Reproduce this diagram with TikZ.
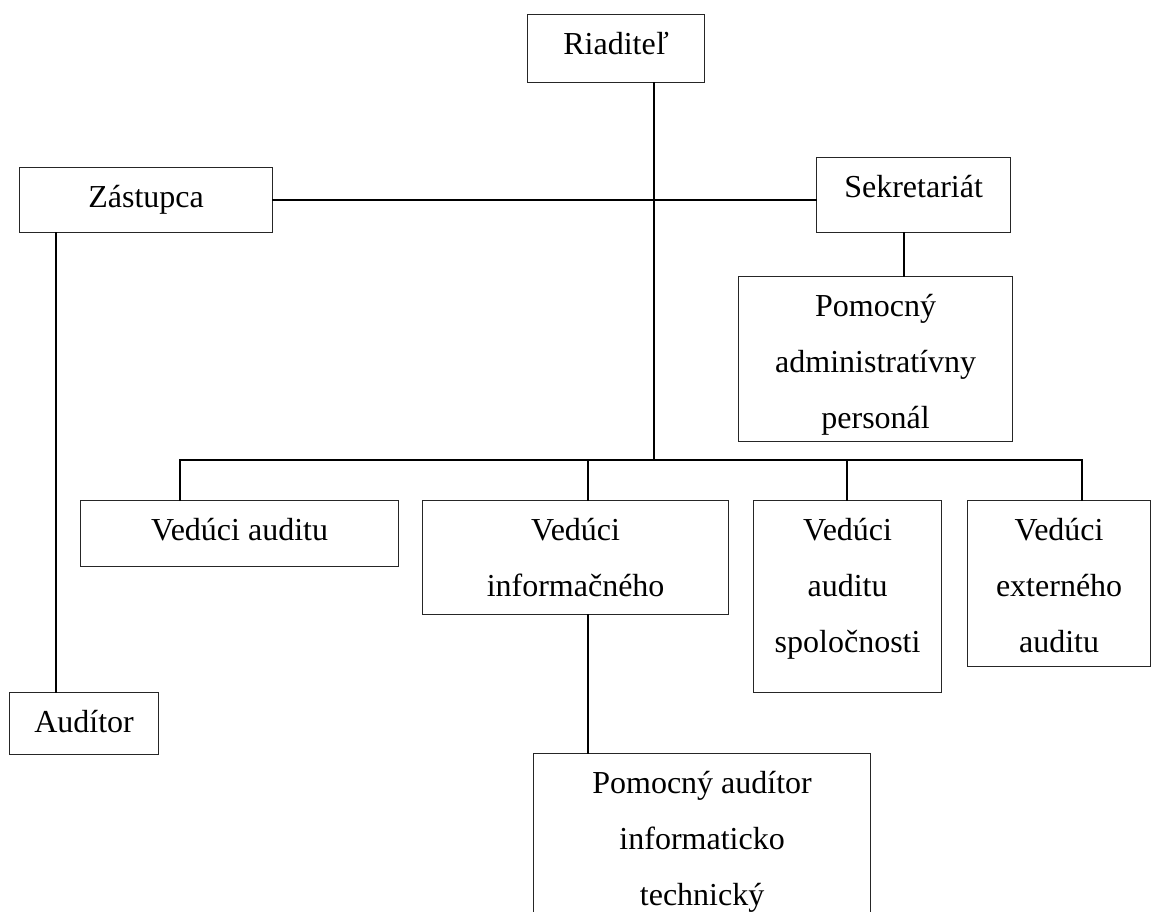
\documentclass[tikz,border=0pt]{standalone}
\usepackage{fontspec}
\setmainfont{Liberation Serif}
\newcommand\bxt[3]{\parbox[c][#2][t]{#1}{\centering\rule{0pt}{30pt}#3\par}}
\tikzset{
  orgbox/.style={draw=black!85, line width=0.9pt, inner sep=0pt, anchor=north west,
    font=\fontsize{24}{42}\selectfont},
  link/.style={line width=1.4pt, line cap=rect}
}
\begin{document}
\begin{tikzpicture}[x=0.75pt,y=-0.75pt]
\useasboundingbox (0,0) rectangle (1152,911);
\fill[white] (0,0) rectangle (1152,911);

\node[orgbox] (R)  at (527,14)  {\bxt{132.75pt}{51pt}{Riaditeľ}};
\node[orgbox] (Z)  at (19,167)  {\bxt{189.75pt}{48.75pt}{Zástupca}};
\node[orgbox] (S)  at (816,157) {\bxt{145.5pt}{56.25pt}{Sekretariát}};
\node[orgbox] (P)  at (738,276) {\bxt{205.5pt}{123.75pt}{Pomocný\\administratívny\\personál}};
\node[orgbox] (VA) at (80,500)  {\bxt{238.5pt}{49.5pt}{Vedúci auditu}};
\node[orgbox] (VI) at (422,500) {\bxt{229.5pt}{85.5pt}{Vedúci\\informačného}};
\node[orgbox] (VS) at (753,500) {\bxt{141pt}{144pt}{Vedúci\\auditu\\spoločnosti}};
\node[orgbox] (VE) at (967,500) {\bxt{137.25pt}{124.5pt}{Vedúci\\externého\\auditu}};
\node[orgbox] (A)  at (9,692)   {\bxt{111.75pt}{46.5pt}{Audítor}};
\node[orgbox] (PA) at (533,753) {\bxt{252.75pt}{155.25pt}{Pomocný audítor\\informaticko\\technický}};

\coordinate (bus)  at (654,460);
\coordinate (busL) at (180,460);
\coordinate (busR) at (1082,460);
\coordinate (sx)   at (904,0);
\coordinate (zx)   at (56,0);
\coordinate (vix)  at (588,0);
\coordinate (vsx)  at (847,0);

\draw[link] (R.south -| bus) -- (bus);
\draw[link] (Z.east) -- (Z.east -| S.west);
\draw[link] (S.south -| sx) -- (P.north -| sx);
\draw[link] (Z.south -| zx) -- (A.north -| zx);
\draw[link] (VA.north -| busL) -- (busL) -- (busR) -- (VE.north -| busR);
\draw[link] (VI.north -| vix) -- (vix |- bus);
\draw[link] (VS.north -| vsx) -- (vsx |- bus);
\draw[link] (VI.south -| vix) -- (PA.north -| vix);
\end{tikzpicture}
\end{document}
